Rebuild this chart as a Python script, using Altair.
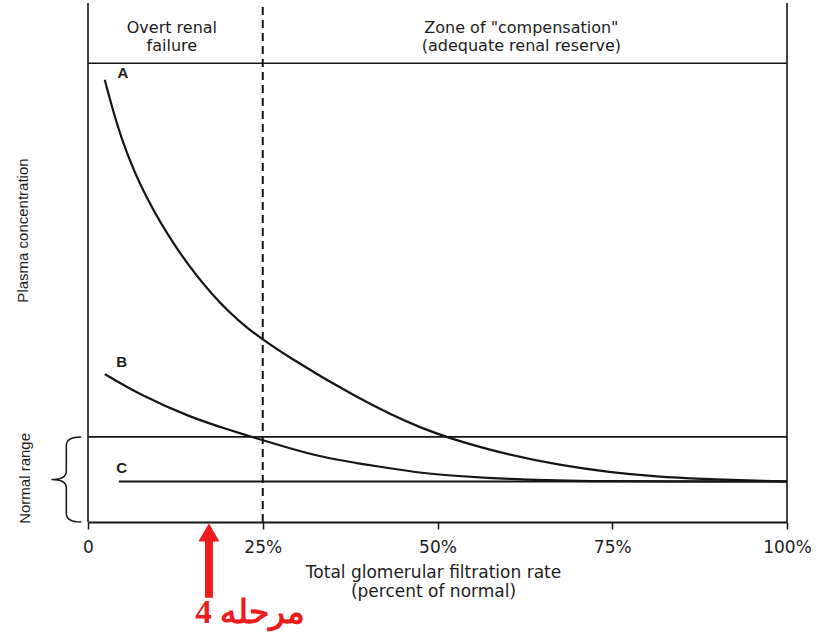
import altair as alt
import pandas as pd

# ---------------- data ----------------
x_tick_values = [0, 25, 50, 75, 100]

a_gfr = [2.4, 4.6, 8.2, 12.9, 17.7, 22.5, 28.6, 38.2, 47.8, 57.2, 66.8, 80.4, 100]
a_conc = [85.2, 74.0, 62.4, 52.0, 43.7, 37.4, 31.8, 24.1, 17.7, 13.9, 11.0, 8.5, 7.8]

b_gfr = [2.4, 7.4, 14.6, 20.3, 23.9, 28.6, 33.5, 38.2, 42.9, 47.8, 52.5, 57.2, 61.5, 73.2, 100]
b_conc = [28.5, 24.5, 20.2, 17.7, 16.2, 14.3, 12.5, 11.4, 10.4, 9.4, 8.9, 8.5, 8.2, 7.8, 7.8]

c_gfr = [4.4, 100]
c_conc = [7.8, 7.8]

header_level = 88.4        # line under the zone header
normal_upper = 16.4        # upper limit of normal range
failure_threshold = 25     # dashed separator (% GFR)
frame_edges = [0, 100]

curve_names = ["A", "B", "C"]
curve_label_gfr = [5.0, 4.8, 4.8]
curve_label_conc = [86.6, 30.8, 10.4]

zone_texts = ["Overt renal\nfailure", "Zone of \"compensation\"\n(adequate renal reserve)"]
zone_gfr = [12.0, 62.0]
zone_conc = [95.1, 95.1]

stage_gfr = 17.3
stage_text = "مرحله 4"

# ---------------- chart ----------------
W, H = 699, 519
XS = alt.Scale(domain=[0, 100], nice=False, zero=False)
YS = alt.Scale(domain=[0, 100], nice=False, zero=False)
INK = "#151515"
TXT = "#1c1c1c"
RED = "#ee1c1c"
FONT = "DejaVu Sans"
SANS = "Liberation Sans"

rows = []
for n, xs, ys in [("A", a_gfr, a_conc), ("B", b_gfr, b_conc), ("C", c_gfr, c_conc)]:
    for x, y in zip(xs, ys):
        rows.append({"series": n, "gfr": x, "conc": y})
curves = pd.DataFrame(rows)

lines = alt.Chart(curves).mark_line(color=INK, strokeWidth=2.2, interpolate="basis").encode(
    x=alt.X("gfr:Q", scale=XS, axis=alt.Axis(
        values=x_tick_values,
        labelExpr="datum.value == 0 ? '0' : datum.value + '%'",
        domainColor=INK, domainWidth=1.8, tickColor=INK, tickWidth=1.5, tickSize=7,
        labelFont=FONT, labelFontSize=17, labelColor=TXT, labelPadding=10,
        grid=False, labelFlush=False,
        title=["Total glomerular filtration rate", "(percent of normal)"],
        titleFont=FONT, titleFontSize=17, titleFontWeight="normal", titleColor=TXT,
        titleX=345, titleY=42, titleBaseline="top", titleLineHeight=19)),
    y=alt.Y("conc:Q", scale=YS, axis=alt.Axis(
        domain=False, ticks=False, labels=False, grid=False,
        title="Plasma concentration", titleFont=SANS,
        titleFontSize=15, titleFontWeight="normal", titleColor=TXT,
        titleAngle=270, titleX=-66, titleY=227, titleAlign="center", titleBaseline="middle")),
    detail="series:N",
)

hl = pd.DataFrame({"gfr": [0, 0], "gfr_end": [100, 100], "conc": [header_level, normal_upper]})
hrules = alt.Chart(hl).mark_rule(color=INK, strokeWidth=1.6).encode(
    y=alt.Y("conc:Q", scale=YS),
    x=alt.X("gfr:Q", scale=XS), x2="gfr_end:Q")

vl = pd.DataFrame({"gfr": frame_edges, "conc": [0, 0], "conc_end": [100, 100]})
vrules = alt.Chart(vl).mark_rule(color=INK, strokeWidth=1.6).encode(
    x=alt.X("gfr:Q", scale=XS),
    y=alt.Y("conc:Q", scale=YS), y2="conc_end:Q")

dl = pd.DataFrame({"gfr": [failure_threshold], "conc": [0], "conc_end": [100]})
dashed = alt.Chart(dl).mark_rule(color=INK, strokeWidth=2, strokeDash=[8, 5]).encode(
    x=alt.X("gfr:Q", scale=XS),
    y=alt.Y("conc:Q", scale=YS), y2="conc_end:Q")

labs = pd.DataFrame({"t": curve_names, "gfr": curve_label_gfr, "conc": curve_label_conc})
curve_labels = alt.Chart(labs).mark_text(font=SANS, fontSize=15, fontWeight="bold", color=TXT).encode(
    x=alt.X("gfr:Q", scale=XS), y=alt.Y("conc:Q", scale=YS), text="t:N")

zl = pd.DataFrame({"t": zone_texts, "gfr": zone_gfr, "conc": zone_conc})
zone_labels = alt.Chart(zl).mark_text(font=FONT, fontSize=16, color=TXT, lineBreak="\n",
                                      lineHeight=18, baseline="middle").encode(
    x=alt.X("gfr:Q", scale=XS), y=alt.Y("conc:Q", scale=YS), text="t:N")

# Normal range annotation (left of plot)
nr = pd.DataFrame({"t": ["Normal range"], "gfr": [-9.0], "conc": [(0 + normal_upper) / 2 + 0.2]})
normal_label = alt.Chart(nr).mark_text(font=SANS, fontSize=15, color=TXT,
                                       angle=270, baseline="middle").encode(
    x=alt.X("gfr:Q", scale=XS), y=alt.Y("conc:Q", scale=YS), text="t:N")

brace_path = "M 0.35 -1 Q 0 -1 0 -0.8 L 0 -0.2 Q 0 0 -0.35 0 Q 0 0 0 0.2 L 0 0.8 Q 0 1 0.35 1"
br = pd.DataFrame({"gfr": [-3.1], "conc": [normal_upper / 2]})
brace = alt.Chart(br).mark_point(shape=brace_path, filled=False, stroke=INK, strokeWidth=1.5,
                                 size=7225, opacity=1).encode(
    x=alt.X("gfr:Q", scale=XS), y=alt.Y("conc:Q", scale=YS))

# Red arrow and stage label
sh = pd.DataFrame({"gfr": [stage_gfr], "conc": [-3.6], "conc_end": [-14.6]})
shaft = alt.Chart(sh).mark_rule(color=RED, strokeWidth=8).encode(
    x=alt.X("gfr:Q", scale=XS), y=alt.Y("conc:Q", scale=YS), y2="conc_end:Q")
hd = pd.DataFrame({"gfr": [stage_gfr], "conc": [-2.0]})
head = alt.Chart(hd).mark_point(shape="triangle-up", filled=True, color=RED, size=441, opacity=1).encode(
    x=alt.X("gfr:Q", scale=XS), y=alt.Y("conc:Q", scale=YS))
st = pd.DataFrame({"t": [stage_text], "gfr": [23.2], "conc": [-17.6]})
stage = alt.Chart(st).mark_text(font="Liberation Serif", fontSize=33, fontWeight="bold", color=RED,
                                baseline="middle").encode(
    x=alt.X("gfr:Q", scale=XS), y=alt.Y("conc:Q", scale=YS), text="t:N")

chart = alt.layer(
    lines, hrules, vrules, dashed, curve_labels, zone_labels, normal_label, brace, shaft, head, stage
).properties(
    width=W, height=H,
    autosize=alt.AutoSizeParams(type="none"),
    padding={"left": 88, "top": 3, "right": 29, "bottom": 115},
    background="white",
).configure_view(stroke=None)

chart.save("out.html", embed_options={"renderer": "svg", "actions": False})
